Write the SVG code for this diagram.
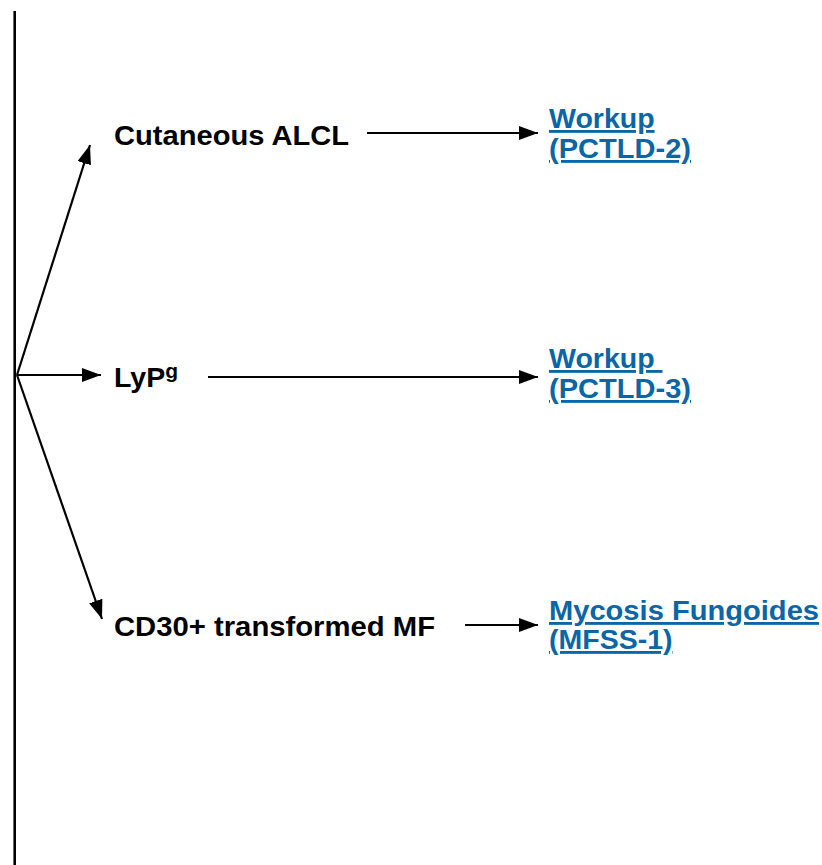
<svg xmlns="http://www.w3.org/2000/svg" width="822" height="865" viewBox="0 0 822 865">
<style>
.t{font-family:"Liberation Sans",Arial,sans-serif;font-weight:bold;font-size:28.5px;fill:#000}
.l{font-family:"Liberation Sans",Arial,sans-serif;font-weight:bold;font-size:28.5px;fill:#0a66a6;text-decoration:underline}
.c{stroke:#000;stroke-width:2.2;fill:none}
</style>
<defs>
<marker id="ah" viewBox="0 0 19 14" refX="19" refY="7" markerWidth="19" markerHeight="14" markerUnits="userSpaceOnUse" orient="auto">
<path d="M0,0 L19,7 L0,14 Z" fill="#000"/>
</marker>
</defs>
<rect width="822" height="865" fill="#fff"/>
<line x1="14.7" y1="11" x2="14.7" y2="865" stroke="#000" stroke-width="2.6"/>
<g id="connectors">
<line class="c" x1="17" y1="375" x2="90" y2="145" marker-end="url(#ah)"/>
<line class="c" x1="17" y1="375" x2="101" y2="375" marker-end="url(#ah)"/>
<line class="c" x1="17" y1="375" x2="102" y2="619" marker-end="url(#ah)"/>
<line class="c" x1="367" y1="133" x2="538" y2="133" marker-end="url(#ah)"/>
<line class="c" x1="208" y1="377" x2="538" y2="377" marker-end="url(#ah)"/>
<line class="c" x1="465" y1="625" x2="538" y2="625" marker-end="url(#ah)"/>
</g>
<g id="node-alcl"><text class="t" x="114" y="145" textLength="235" lengthAdjust="spacingAndGlyphs">Cutaneous ALCL</text></g>
<g id="node-lyp"><text class="t" x="114" y="387">LyP<tspan font-size="21" dy="-9">g</tspan></text></g>
<g id="node-cd30"><text class="t" x="114" y="636" textLength="321" lengthAdjust="spacingAndGlyphs">CD30+ transformed MF</text></g>
<g id="node-workup2">
<text class="l" x="549" y="128">Workup</text>
<text class="l" x="549" y="158" textLength="142" lengthAdjust="spacingAndGlyphs">(PCTLD-2)</text>
</g>
<g id="node-workup3">
<text class="l" x="549" y="368" xml:space="preserve">Workup </text>
<text class="l" x="549" y="398" textLength="142" lengthAdjust="spacingAndGlyphs">(PCTLD-3)</text>
</g>
<g id="node-mf">
<text class="l" x="549" y="620" textLength="270" lengthAdjust="spacingAndGlyphs">Mycosis Fungoides</text>
<text class="l" x="549" y="649">(MFSS-1)</text>
</g>
</svg>
